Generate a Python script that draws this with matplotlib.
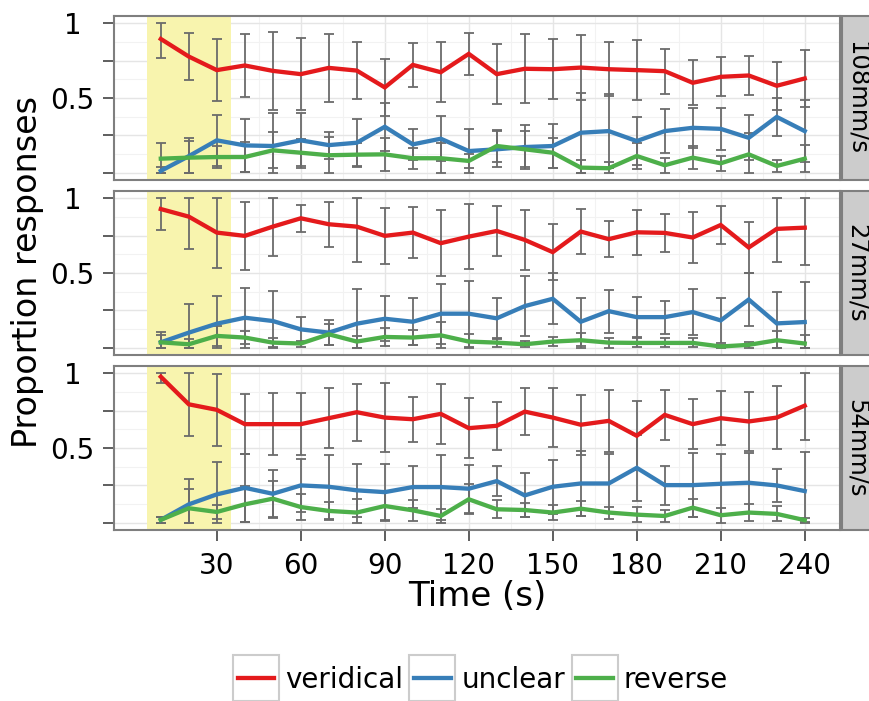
import matplotlib.pyplot as plt
from matplotlib.lines import Line2D
from matplotlib.patches import Rectangle

# 时间点 (s)
times = [10, 20, 30, 40, 50, 60, 70, 80, 90, 100, 110, 120,
         130, 140, 150, 160, 170, 180, 190, 200, 210, 220, 230, 240]
x_ticks = [30, 60, 90, 120, 150, 180, 210, 240]
speeds = ["108mm/s", "27mm/s", "54mm/s"]
kinds = ["veridical", "unclear", "reverse"]

# 108mm/s
ver_108 = [0.896, 0.778, 0.687, 0.718, 0.682, 0.660, 0.702, 0.684, 0.571, 0.722, 0.673, 0.796,
           0.660, 0.696, 0.693, 0.704, 0.693, 0.687, 0.680, 0.602, 0.642, 0.651, 0.582, 0.631]
ver_108_err = [0.13, 0.16, 0.21, 0.21, 0.26, 0.24, 0.23, 0.19, 0.19, 0.15, 0.20, 0.14,
               0.20, 0.23, 0.20, 0.22, 0.18, 0.20, 0.15, 0.15, 0.13, 0.13, 0.16, 0.19]
unc_108 = [0.011, 0.110, 0.216, 0.182, 0.178, 0.216, 0.184, 0.200, 0.307, 0.189, 0.227, 0.144,
           0.156, 0.171, 0.178, 0.267, 0.278, 0.211, 0.278, 0.300, 0.293, 0.233, 0.373, 0.278]
unc_108_err = [0.025, 0.12, 0.17, 0.18, 0.22, 0.185, 0.09, 0.156, 0.16, 0.104, 0.15, 0.15,
               0.12, 0.15, 0.15, 0.267, 0.25, 0.16, 0.15, 0.133, 0.14, 0.15, 0.13, 0.21]
rev_108 = [0.093, 0.100, 0.104, 0.104, 0.149, 0.133, 0.116, 0.120, 0.122, 0.096, 0.096, 0.078,
           0.178, 0.156, 0.133, 0.033, 0.029, 0.111, 0.049, 0.100, 0.062, 0.122, 0.044, 0.093]
rev_108_err = [0.107, 0.11, 0.074, 0.10, 0.12, 0.09, 0.12, 0.08, 0.11, 0.07, 0.10, 0.045,
               0.11, 0.12, 0.10, 0.05, 0.04, 0.09, 0.05, 0.078, 0.05, 0.145, 0.04, 0.09]

# 27mm/s
ver_27 = [0.929, 0.878, 0.771, 0.749, 0.811, 0.867, 0.827, 0.811, 0.749, 0.771, 0.700, 0.744,
          0.782, 0.722, 0.640, 0.778, 0.727, 0.773, 0.769, 0.738, 0.822, 0.671, 0.796, 0.804]
ver_27_err = [0.14, 0.22, 0.24, 0.23, 0.20, 0.09, 0.15, 0.24, 0.19, 0.17, 0.22, 0.22,
              0.17, 0.20, 0.19, 0.15, 0.12, 0.15, 0.13, 0.17, 0.13, 0.17, 0.22, 0.25]
unc_27 = [0.035, 0.100, 0.160, 0.200, 0.178, 0.122, 0.100, 0.160, 0.193, 0.173, 0.227, 0.227,
          0.196, 0.278, 0.327, 0.173, 0.244, 0.204, 0.204, 0.238, 0.182, 0.322, 0.162, 0.171]
unc_27_err = [0.07, 0.19, 0.184, 0.20, 0.20, 0.085, 0.085, 0.236, 0.15, 0.156, 0.20, 0.22,
              0.137, 0.20, 0.17, 0.16, 0.145, 0.134, 0.11, 0.155, 0.15, 0.18, 0.21, 0.27]
rev_27 = [0.035, 0.022, 0.078, 0.067, 0.033, 0.027, 0.089, 0.040, 0.071, 0.067, 0.082, 0.040,
          0.033, 0.022, 0.040, 0.049, 0.033, 0.031, 0.031, 0.031, 0.007, 0.018, 0.049, 0.027]
rev_27_err = [0.05, 0.034, 0.065, 0.045, 0.03, 0.02, 0.07, 0.04, 0.06, 0.05, 0.09, 0.05,
              0.03, 0.02, 0.03, 0.05, 0.033, 0.03, 0.03, 0.03, 0.01, 0.02, 0.06, 0.057]

# 54mm/s
ver_54 = [0.978, 0.793, 0.756, 0.660, 0.660, 0.660, 0.700, 0.740, 0.704, 0.693, 0.729, 0.633,
          0.649, 0.744, 0.704, 0.656, 0.682, 0.582, 0.722, 0.660, 0.700, 0.678, 0.704, 0.784]
ver_54_err = [0.04, 0.21, 0.24, 0.20, 0.21, 0.21, 0.20, 0.19, 0.23, 0.15, 0.20, 0.20,
              0.16, 0.16, 0.20, 0.20, 0.21, 0.23, 0.17, 0.17, 0.18, 0.20, 0.21, 0.23]
unc_54 = [0.018, 0.122, 0.189, 0.233, 0.193, 0.249, 0.240, 0.216, 0.204, 0.238, 0.238, 0.227,
          0.278, 0.182, 0.240, 0.262, 0.262, 0.367, 0.251, 0.251, 0.260, 0.267, 0.249, 0.211]
unc_54_err = [0.02, 0.17, 0.22, 0.23, 0.16, 0.18, 0.215, 0.18, 0.19, 0.14, 0.218, 0.16,
              0.10, 0.147, 0.18, 0.216, 0.20, 0.22, 0.13, 0.215, 0.20, 0.20, 0.11, 0.26]
rev_54 = [0.018, 0.096, 0.071, 0.122, 0.160, 0.104, 0.078, 0.067, 0.111, 0.082, 0.044, 0.156,
          0.089, 0.084, 0.067, 0.093, 0.067, 0.053, 0.044, 0.100, 0.049, 0.067, 0.058, 0.016]
rev_54_err = [0.02, 0.13, 0.05, 0.12, 0.12, 0.09, 0.06, 0.093, 0.10, 0.07, 0.045, 0.10,
              0.06, 0.05, 0.05, 0.05, 0.04, 0.05, 0.04, 0.06, 0.05, 0.055, 0.05, 0.015]

panels = [
    [(ver_108, ver_108_err), (unc_108, unc_108_err), (rev_108, rev_108_err)],
    [(ver_27, ver_27_err), (unc_27, unc_27_err), (rev_27, rev_27_err)],
    [(ver_54, ver_54_err), (unc_54, unc_54_err), (rev_54, rev_54_err)],
]
colors = ["#E41A1C", "#377EB8", "#4DAF4A"]

W, H = 869, 701
fig = plt.figure(figsize=(W / 100, H / 100), dpi=100)

left, right = 113.5, 840.0
tops = [16, 191, 366]
ph = 164

for k, (top, name, series) in enumerate(zip(tops, speeds, panels)):
    ax = fig.add_axes([left / W, 1 - (top + ph) / H, (right - left) / W, ph / H])
    ax.set_xlim(-6.9, 252.6)
    ax.set_ylim(-0.05, 1.05)
    ax.set_axisbelow(True)

    # 网格
    ax.set_xticks(x_ticks)
    ax.set_xticks([45, 75, 105, 135, 165, 195, 225], minor=True)
    ax.set_yticks([0, 0.25, 0.5, 0.75, 1])
    ax.set_yticks([0.125, 0.375, 0.625, 0.875], minor=True)
    ax.set_yticklabels(["", "", "0.5", "", "1"])
    ax.grid(which="major", color="#E5E5E5", lw=1.0)
    ax.grid(which="minor", color="#F2F2F2", lw=0.8)
    ax.tick_params(which="minor", length=0)
    ax.tick_params(axis="y", length=8, width=1.1, color="#333333",
                   labelsize=20, pad=21.5)
    for lab in ax.get_yticklabels():
        lab.set_horizontalalignment("center")
    if k == 2:
        ax.tick_params(axis="x", length=8, width=1.1, color="#333333",
                       labelsize=20, pad=7.5)
    else:
        ax.tick_params(axis="x", length=0, labelbottom=False)

    for sp in ax.spines.values():
        sp.set_color("#7F7F7F")
        sp.set_linewidth(1.5)

    # 前 30 秒阴影
    ax.axvspan(5, 35, color="#F8F4AE", lw=0, zorder=0.8)

    for (vals, err), c in zip(series, colors):
        lo = [min(e, v) for v, e in zip(vals, err)]
        hi = [min(e, 1 - v) for v, e in zip(vals, err)]
        ax.errorbar(times, vals, yerr=[lo, hi], fmt="none", ecolor="#6B6B6B",
                    elinewidth=1.3, capsize=3.3, capthick=1.3, zorder=2)
        ax.plot(times, vals, color=c, lw=3.1, zorder=3, solid_joinstyle="miter")

    # 右侧分面标签
    sw = 40 / (right - left)
    ax.add_patch(Rectangle((1 + 2 / (right - left), 0), sw, 1, transform=ax.transAxes,
                           clip_on=False, fc="#CCCCCC", ec="#7F7F7F", lw=1.5))
    ax.text(1 + 17 / (right - left), 0.5, name, rotation=-90, transform=ax.transAxes,
            ha="center", va="center", fontsize=17.5)

fig.text(477 / W, 1 - 596 / H, "Time (s)", ha="center", va="center", fontsize=24.5)
fig.text(28 / W, 1 - 272 / H, "Proportion responses", rotation=90,
         ha="center", va="center", fontsize=24)

handles = [Line2D([], [], color=c, lw=3.1) for c in colors]
leg = fig.legend(handles, kinds, loc="center", bbox_to_anchor=(483 / W, 21 / H),
                 ncol=3, frameon=False, fontsize=20, handlelength=1.3,
                 handletextpad=0.4, columnspacing=0.4, borderpad=0, borderaxespad=0)

# 图例键的方框
fig.canvas.draw()
inv = fig.transFigure.inverted()
for ln in leg.get_lines():
    bb = ln.get_window_extent()
    cx, cy = (bb.x0 + bb.x1) / 2, (bb.y0 + bb.y1) / 2
    (x0, y0) = inv.transform((cx - 23, cy - 23))
    (x1, y1) = inv.transform((cx + 23, cy + 23))
    fig.add_artist(Rectangle((x0, y0), x1 - x0, y1 - y0, transform=fig.transFigure,
                             fill=False, ec="#CCCCCC", lw=1.5, zorder=1))

fig.savefig("out.png", dpi=100)
